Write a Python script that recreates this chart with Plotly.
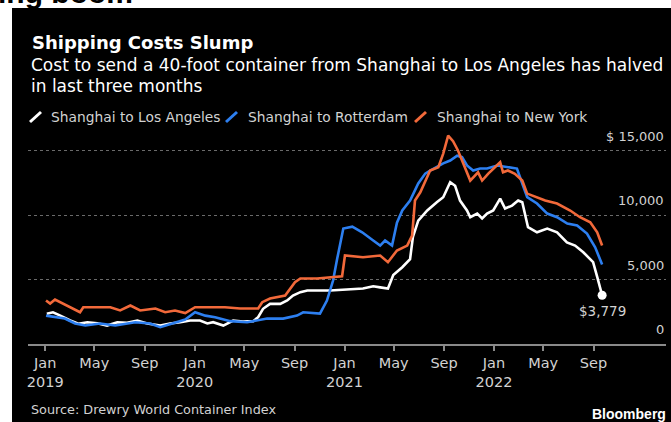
import plotly.graph_objects as go

# ---------------- data ----------------
series_names = ["Shanghai to Los Angeles", "Shanghai to Rotterdam", "Shanghai to New York"]
series_colors = ["#ffffff", "#2d7ff0", "#f2693a"]

la_dates = ["2019-01-05","2019-01-20","2019-02-07","2019-03-03","2019-03-23","2019-04-14","2019-05-08","2019-06-01","2019-06-26","2019-07-20",
            "2019-08-14","2019-09-07","2019-10-09","2019-11-02","2019-11-27","2019-12-21","2020-01-14","2020-02-01","2020-02-15","2020-03-11",
            "2020-04-04","2020-04-28","2020-05-23","2020-06-04","2020-06-16","2020-07-03","2020-07-28","2020-08-14","2020-08-28","2020-09-15",
            "2020-10-02","2020-11-27","2021-02-15","2021-03-12","2021-03-29","2021-04-17","2021-04-30","2021-05-22","2021-06-10","2021-06-17",
            "2021-06-30","2021-07-22","2021-08-15","2021-08-30","2021-09-16","2021-09-28","2021-10-10","2021-10-27","2021-11-04","2021-11-21",
            "2021-12-03","2021-12-15","2021-12-30","2022-01-16","2022-01-28","2022-02-14","2022-03-01","2022-03-11","2022-03-25","2022-04-16",
            "2022-05-11","2022-06-04","2022-06-28","2022-07-18","2022-08-07","2022-08-31","2022-09-10","2022-09-22"]
la_values = [2340,2460,2200,1820,1570,1690,1610,1430,1690,1650,
             1820,1590,1430,1590,1690,1820,1820,1590,1690,1430,
             1820,1750,1770,2080,2730,3110,3110,3370,3760,4020,
             4150,4150,4300,4480,4390,4300,5350,5950,6580,8300,
             9570,10350,11000,11380,12540,12270,11120,10350,9830,10110,
             9730,10110,10350,11270,10500,10730,11120,10990,9050,8660,
             8950,8660,7880,7630,7110,6350,5200,3779]

rot_dates = ["2019-01-03","2019-01-25","2019-02-18","2019-03-15","2019-04-09","2019-05-15","2019-06-21","2019-08-09","2019-09-14","2019-10-09",
             "2019-11-07","2019-12-09","2020-01-02","2020-01-27","2020-02-20","2020-03-28","2020-05-08","2020-06-26","2020-08-04","2020-09-07",
             "2020-09-22","2020-11-02","2020-11-19","2020-12-04","2020-12-14","2020-12-29","2021-01-20","2021-02-13","2021-03-12","2021-03-29",
             "2021-04-10","2021-04-27","2021-05-09","2021-05-22","2021-06-10","2021-06-30","2021-07-17","2021-07-29","2021-08-30","2021-09-16",
             "2021-10-03","2021-10-15","2021-10-27","2021-11-11","2021-11-28","2021-12-15","2022-01-09","2022-02-09","2022-02-26","2022-03-11",
             "2022-03-23","2022-04-16","2022-05-11","2022-06-04","2022-06-19","2022-06-29","2022-07-23","2022-08-16","2022-09-05","2022-09-22"]
rot_values = [2200,2080,1970,1590,1430,1590,1430,1690,1590,1300,
              1590,1900,2460,2200,2080,1770,1690,1970,1970,2200,
              2460,2360,3370,4920,6600,8950,9100,8660,8020,7630,
              8020,7630,9400,10350,11120,12440,13210,13450,14000,14220,
              14600,14480,13840,13450,13600,13600,13840,13700,13600,12440,
              11380,10890,10110,9830,9570,9340,9180,8560,7500,6160]

ny_dates = ["2019-01-03","2019-01-13","2019-01-25","2019-02-07","2019-03-03","2019-03-27","2019-04-04","2019-06-09","2019-07-03","2019-07-28",
            "2019-08-21","2019-09-27","2019-10-21","2019-11-14","2019-12-09","2020-01-02","2020-03-15","2020-04-21","2020-06-04","2020-06-14",
            "2020-07-03","2020-08-09","2020-09-02","2020-09-15","2020-10-26","2020-12-26","2021-01-02","2021-02-15","2021-03-29","2021-04-17",
            "2021-05-09","2021-06-03","2021-06-15","2021-06-22","2021-07-05","2021-07-17","2021-07-29","2021-08-18","2021-08-30","2021-09-11",
            "2021-09-23","2021-10-05","2021-10-18","2021-11-04","2021-11-23","2021-12-03","2021-12-18","2022-01-16","2022-01-23","2022-02-04",
            "2022-02-21","2022-03-11","2022-03-23","2022-04-16","2022-05-06","2022-06-04","2022-07-06","2022-07-30","2022-08-24","2022-09-10",
            "2022-09-22"]
ny_values = [3370,3130,3450,3240,2850,2460,2850,2850,2600,2980,
             2600,2750,2460,2600,2400,2850,2850,2750,2750,3240,
             3530,3760,4790,5080,5080,5250,6860,6730,6860,6340,
             7250,7630,8400,11120,11760,12540,13450,13700,14760,16160,
             15720,15000,13990,12670,13310,12670,13210,14090,13310,13450,
             13200,12670,11660,11380,11120,10890,10350,9830,9440,8660,
             7630]

x_tick_vals = ["2019-01-01","2019-05-01","2019-09-01","2020-01-01","2020-05-01","2020-09-01",
               "2021-01-01","2021-05-01","2021-09-01","2022-01-01","2022-05-01","2022-09-01"]
x_tick_text = ["Jan<br>2019","May","Sep","Jan<br>2020","May","Sep",
               "Jan<br>2021","May","Sep","Jan<br>2022","May","Sep"]
y_tick_vals = [0, 5000, 10000, 15000]
y_tick_text = ["0", "5,000", "10,000", "$ 15,000"]

last_label = "$3,779"

# ---------------- layout helpers ----------------
W, H = 671, 422
ML, MR, MT, MB = 28, 5, 127, 78
PW, PH = W - ML - MR, H - MT - MB

def px(x):
    return (x - ML) / PW

def py(y):
    return (H - MB - y) / PH

FONT = "DejaVu Sans"
TXT = "#d2d2d2"

fig = go.Figure()
series = [(la_dates, la_values), (rot_dates, rot_values), (ny_dates, ny_values)]
for (d, v), name, col in zip(series, series_names, series_colors):
    fig.add_trace(go.Scatter(x=d, y=v, mode="lines", name=name,
                             line=dict(color=col, width=2.6), showlegend=False))

# end dot for Los Angeles
fig.add_trace(go.Scatter(x=[la_dates[-1]], y=[la_values[-1]], mode="markers",
                         marker=dict(color="#ffffff", size=9), showlegend=False))

annotations = [
    dict(x=la_dates[-1], y=la_values[-1], xref="x", yref="y", text=last_label,
         showarrow=False, yshift=-16, font=dict(family=FONT, size=13.5, color=TXT)),
    dict(x=px(30), y=py(42), xref="paper", yref="paper", xanchor="left", yanchor="middle",
         text="<b>Shipping Costs Slump</b>", showarrow=False,
         font=dict(family=FONT, size=18, color="#ffffff")),
    dict(x=px(29), y=py(65), xref="paper", yref="paper", xanchor="left", yanchor="middle",
         text="Cost to send a 40-foot container from Shanghai to Los Angeles has halved",
         showarrow=False, font=dict(family=FONT, size=17, color="#ffffff")),
    dict(x=px(29), y=py(86), xref="paper", yref="paper", xanchor="left", yanchor="middle",
         text="in last three months", showarrow=False,
         font=dict(family=FONT, size=17, color="#ffffff")),
    dict(x=px(29), y=py(409), xref="paper", yref="paper", xanchor="left", yanchor="middle",
         text="Source: Drewry World Container Index", showarrow=False,
         font=dict(family=FONT, size=12.8, color=TXT)),
    dict(x=px(668), y=py(414), xref="paper", yref="paper", xanchor="right", yanchor="middle",
         text="<b>Bloomberg</b>", showarrow=False,
         font=dict(family="Liberation Sans", size=14, color="#ffffff")),
    dict(x=px(-4), y=py(11), xref="paper", yref="paper", xanchor="left", yanchor="bottom",
         text="<b>ing boom</b>", showarrow=False,
         font=dict(family="Liberation Sans", size=30, color="#000000")),
]

# y tick labels sit above their gridlines, right-aligned at the plot edge
for v, t in zip(y_tick_vals, y_tick_text):
    annotations.append(dict(x=1, y=v, xref="paper", yref="y", xanchor="right", yanchor="middle",
                            text=t, showarrow=False, yshift=14.5,
                            font=dict(family=FONT, size=13, color=TXT)))

# legend built from text + slanted line icons
legend_text_x = [49, 246, 435]
legend_icon_x = [30, 226, 415]
shapes = [
    dict(type="rect", xref="paper", yref="paper", x0=px(-5), x1=px(12), y0=py(-5), y1=py(H + 5),
         fillcolor="#ffffff", line=dict(width=0), layer="below"),
    dict(type="rect", xref="paper", yref="paper", x0=px(-5), x1=px(W + 5), y0=py(-5), y1=py(8),
         fillcolor="#ffffff", line=dict(width=0), layer="below"),
]
for name, col, tx, ix in zip(series_names, series_colors, legend_text_x, legend_icon_x):
    annotations.append(dict(x=px(tx), y=py(117), xref="paper", yref="paper", xanchor="left",
                            yanchor="middle", text=name, showarrow=False,
                            font=dict(family=FONT, size=13.8, color=TXT)))
    shapes.append(dict(type="line", xref="paper", yref="paper", x0=px(ix), y0=py(122),
                       x1=px(ix + 11), y1=py(112), line=dict(color=col, width=3)))

fig.update_layout(
    width=W, height=H,
    margin=dict(l=ML, r=MR, t=MT, b=MB, pad=0),
    paper_bgcolor="#000000", plot_bgcolor="#000000",
    showlegend=False,
    annotations=annotations, shapes=shapes,
    xaxis=dict(type="date", range=["2018-11-20", "2023-02-25"],
               tickvals=x_tick_vals, ticktext=x_tick_text,
               ticks="outside", ticklen=5, tickcolor="#8a8a8a", tickwidth=1.5,
               showline=True, linecolor="#8a8a8a", linewidth=1.5,
               showgrid=False, zeroline=False,
               tickfont=dict(family=FONT, size=14.5, color=TXT)),
    yaxis=dict(range=[0, 16822], side="right", tickvals=y_tick_vals,
               showticklabels=False, ticks="",
               showgrid=True, gridcolor="#6a6a6a", griddash="dot", gridwidth=1,
               zeroline=False, showline=False),
)

fig.write_html("out.html", config={"displayModeBar": False},
               post_script="document.body.style.margin='0px';")
